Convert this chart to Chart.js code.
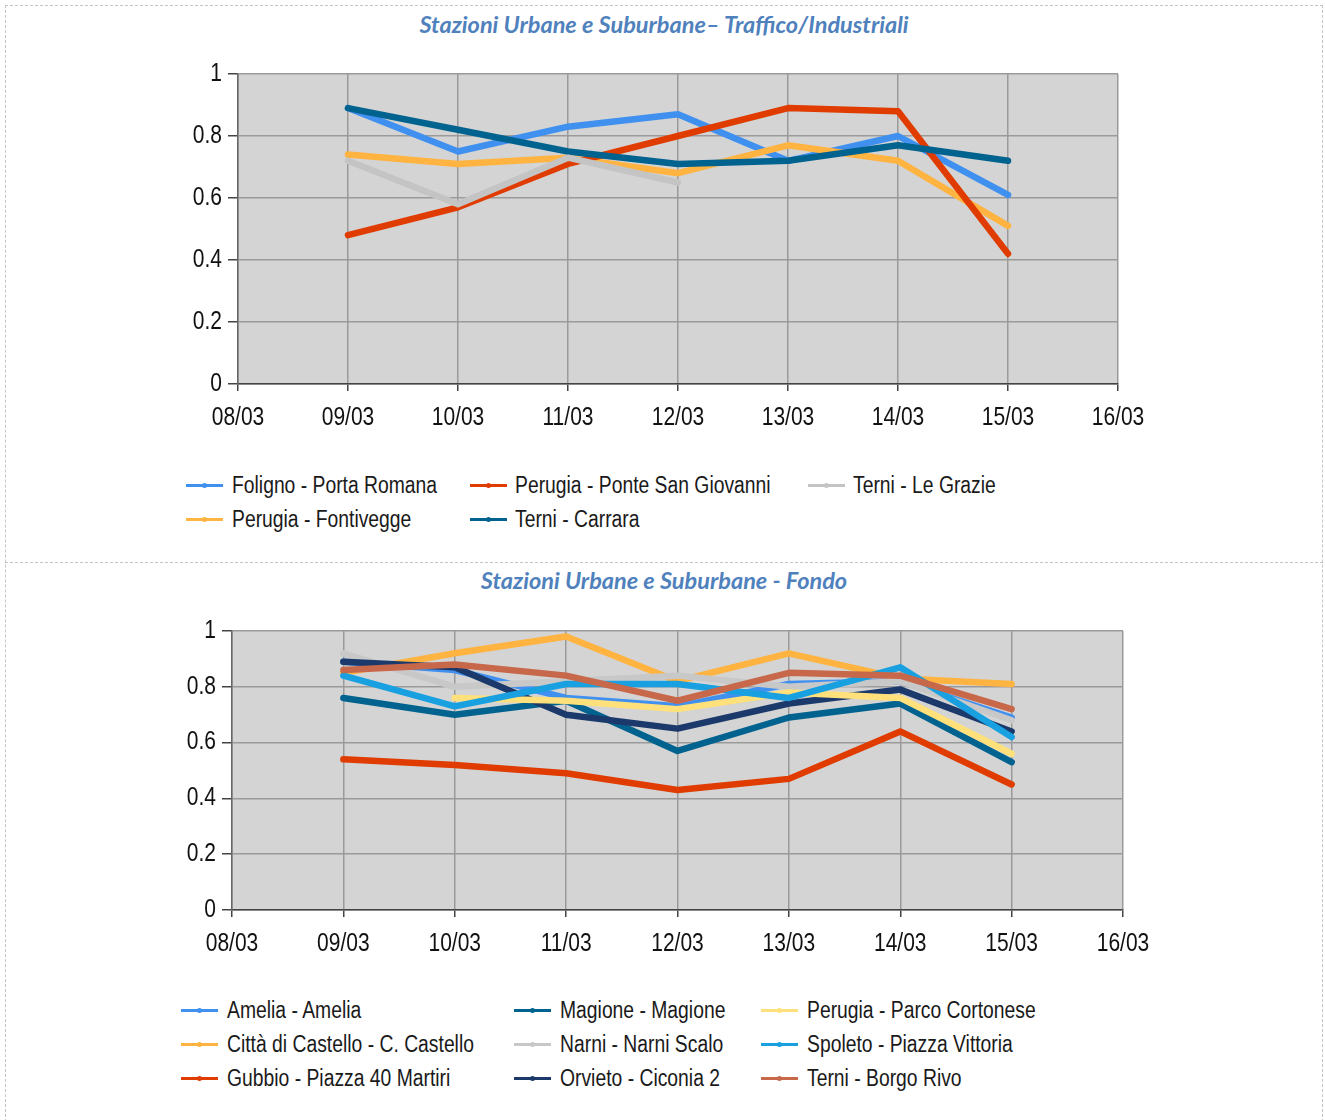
<!DOCTYPE html>
<html>
<head>
<meta charset="utf-8">
<script src="https://cdn.jsdelivr.net/npm/chart.js@4.4.1/dist/chart.umd.min.js"></script>
<style>
    body { margin: 0; background: #fff; width: 1325px; height: 1120px; position: relative; overflow: hidden; }
    .cornice { position: absolute; left: 5px; top: 5px; width: 1316px; height: 1130px; border: 1px dashed #c4c4c4; }
    .separatore { position: absolute; left: 5px; top: 562px; width: 1318px; border-top: 1px dashed #c4c4c4; }
    .titolo { position: absolute; left: 5px; width: 1318px; text-align: center; font-family: Lato, 'Open Sans', sans-serif;
              font-weight: bold; font-style: italic; font-size: 23.5px; color: #4f81bd; white-space: pre; }
    .box-grafico { position: absolute; left: 150px; width: 1030px; }
    .legenda { position: absolute; font-family: 'Liberation Sans', Arial, sans-serif; font-size: 23px; color: #1a1a1a; }
    .voce { position: absolute; white-space: nowrap; height: 30px; line-height: 30px; }
    .voce .linea { position: absolute; left: 0; top: 14px; width: 37px; height: 3px; }
    .voce .punto { position: absolute; left: 16px; top: 13px; width: 5px; height: 5px; border-radius: 50%; }
    .voce .testo { position: absolute; top: 0; transform: scaleX(0.84); transform-origin: left center; }
</style>
</head>
<body>
<div class="cornice"></div>
<div class="separatore"></div>

<div class="titolo" style="top: 10px;">Stazioni Urbane e Suburbane– Traffico/Industriali</div>
<div class="box-grafico" style="top: 40px; height: 410px;"><canvas id="grafico-traffico"></canvas></div>
<div class="legenda" id="legenda-traffico"></div>

<div class="titolo" style="top: 566px;">Stazioni Urbane e Suburbane - Fondo</div>
<div class="box-grafico" style="top: 600px; height: 375px;"><canvas id="grafico-fondo"></canvas></div>
<div class="legenda" id="legenda-fondo"></div>

<script>
// ===== DATI =====
const giorni = ['08/03', '09/03', '10/03', '11/03', '12/03', '13/03', '14/03', '15/03', '16/03'];
const tickY  = [0, 0.2, 0.4, 0.6, 0.8, 1];

// Traffico / Industriali
const folignoPortaRomana      = [null, 0.89, 0.75, 0.83, 0.87, 0.72, 0.80, 0.61, null];
const perugiaPonteSanGiovanni = [null, 0.48, 0.57, 0.71, 0.80, 0.89, 0.88, 0.42, null];
const terniLeGrazie           = [null, 0.72, 0.58, 0.73, 0.65, null, null, null, null];
const perugiaFontivegge       = [null, 0.74, 0.71, 0.73, 0.68, 0.77, 0.72, 0.51, null];
const terniCarrara            = [null, 0.89, 0.82, 0.75, 0.71, 0.72, 0.77, 0.72, null];

// Fondo
const ameliaAmelia          = [null, 0.89, 0.86, 0.76, 0.73, 0.81, 0.82, 0.69, null];
const cittaDiCastello       = [null, 0.85, 0.92, 0.98, 0.82, 0.92, 0.83, 0.81, null];
const gubbioPiazza40Martiri = [null, 0.54, 0.52, 0.49, 0.43, 0.47, 0.64, 0.45, null];
const magioneMagione        = [null, 0.76, 0.70, 0.75, 0.57, 0.69, 0.74, 0.53, null];
const narniNarniScalo       = [null, 0.92, 0.80, 0.82, 0.84, 0.80, 0.82, 0.68, null];
const orvietoCiconia2       = [null, 0.89, 0.87, 0.70, 0.65, 0.74, 0.79, 0.64, null];
const perugiaParcoCortonese = [null, null, 0.76, 0.75, 0.72, 0.78, 0.76, 0.56, null];
const spoletoPiazzaVittoria = [null, 0.84, 0.73, 0.81, 0.81, 0.76, 0.87, 0.62, null];
const terniBorgoRivo        = [null, 0.86, 0.88, 0.84, 0.75, 0.85, 0.84, 0.72, null];

// ===== SERIE =====
const serieTraffico = [
    { nome: 'Foligno - Porta Romana',       dati: folignoPortaRomana,      colore: '#4090f0' },
    { nome: 'Perugia - Fontivegge',         dati: perugiaFontivegge,       colore: '#ffb340' },
    { nome: 'Perugia - Ponte San Giovanni', dati: perugiaPonteSanGiovanni, colore: '#e03c00' },
    { nome: 'Terni - Carrara',              dati: terniCarrara,            colore: '#00628f' },
    { nome: 'Terni - Le Grazie',            dati: terniLeGrazie,           colore: '#c4c4c4' },
];
const serieFondo = [
    { nome: 'Amelia - Amelia',                 dati: ameliaAmelia,          colore: '#4090f0' },
    { nome: 'Città di Castello - C. Castello', dati: cittaDiCastello,       colore: '#ffb340' },
    { nome: 'Gubbio - Piazza 40 Martiri',      dati: gubbioPiazza40Martiri, colore: '#e03c00' },
    { nome: 'Magione - Magione',               dati: magioneMagione,        colore: '#00628f' },
    { nome: 'Narni - Narni Scalo',             dati: narniNarniScalo,       colore: '#c8c8c8' },
    { nome: 'Orvieto - Ciconia 2',             dati: orvietoCiconia2,       colore: '#1b3a6b' },
    { nome: 'Perugia - Parco Cortonese',       dati: perugiaParcoCortonese, colore: '#ffe07a' },
    { nome: 'Spoleto - Piazza Vittoria',       dati: spoletoPiazzaVittoria, colore: '#18a0e0' },
    { nome: 'Terni - Borgo Rivo',              dati: terniBorgoRivo,        colore: '#c8684a' },
];

const FONT_ASSI = "25px 'Liberation Sans', Arial, sans-serif";
const STRETTO   = 0.84;   // simula Arial Narrow

// sfondo grigio dell'area del grafico
const sfondoArea = {
    id: 'sfondoArea',
    beforeDraw(chart) {
        const { ctx, chartArea: a } = chart;
        ctx.save();
        ctx.fillStyle = '#d4d4d4';
        ctx.fillRect(a.left, a.top, a.right - a.left, a.bottom - a.top);
        ctx.restore();
    }
};

// etichette degli assi in carattere stretto, posizionate dalle scale
const etichetteStrette = {
    id: 'etichetteStrette',
    afterDraw(chart) {
        const { ctx, chartArea: a, scales } = chart;
        ctx.save();
        ctx.font = FONT_ASSI;
        ctx.fillStyle = '#111';
        ctx.textBaseline = 'middle';
        ctx.textAlign = 'center';
        scales.x.ticks.forEach((t, i) => {
            ctx.save();
            ctx.translate(scales.x.getPixelForTick(i), a.bottom + 34);
            ctx.scale(STRETTO, 1);
            ctx.fillText(scales.x.getLabelForValue(t.value), 0, 0);
            ctx.restore();
        });
        ctx.textAlign = 'right';
        scales.y.ticks.forEach((t, i) => {
            ctx.save();
            ctx.translate(a.left - 16, scales.y.getPixelForTick(i));
            ctx.scale(STRETTO, 1);
            ctx.fillText(String(t.value), 0, 0);
            ctx.restore();
        });
        ctx.restore();
    }
};

// ===== GRAFICO =====
function creaGrafico(idCanvas, serie, dim) {
    const ctx = document.getElementById(idCanvas).getContext('2d');
    return new Chart(ctx, {
        type: 'line',
        data: {
            labels: giorni,
            datasets: serie.map((s, i) => ({
                label:            s.nome,
                data:             s.dati,
                borderColor:      s.colore,
                backgroundColor:  s.colore,
                borderWidth:      6.5,
                borderCapStyle:   'round',
                borderJoinStyle:  'round',
                pointRadius:      0,
                tension:          0,
                spanGaps:         false,
                order:            -i,
            }))
        },
        options: {
            responsive: true,
            maintainAspectRatio: false,
            animation: false,
            layout: { padding: { top: dim.top, right: dim.right, left: 0, bottom: 0 } },
            plugins: { legend: { display: false }, tooltip: { enabled: false } },
            scales: {
                x: {
                    offset: false,
                    grid: { color: '#9a9a9a', lineWidth: 1.5, tickLength: 7, tickColor: '#444' },
                    border: { color: '#444', width: 1.5 },
                    ticks: { display: false, autoSkip: false },
                    afterFit: s => { s.height = dim.altezzaX; }
                },
                y: {
                    min: tickY[0],
                    max: tickY[tickY.length - 1],
                    afterBuildTicks: s => { s.ticks = tickY.map(v => ({ value: v })); },
                    grid: { color: '#9a9a9a', lineWidth: 1.5, tickLength: 10, tickColor: '#444' },
                    border: { color: '#666', width: 1.5 },
                    ticks: { display: false },
                    afterFit: s => { s.width = dim.larghezzaY; }
                }
            }
        },
        plugins: [sfondoArea, etichetteStrette]
    });
}

// ===== LEGENDA =====
function creaLegenda(idLegenda, voci) {
    const box = document.getElementById(idLegenda);
    voci.forEach(v => {
        const el = document.createElement('div');
        el.className = 'voce';
        el.style.left = v.x + 'px';
        el.style.top  = v.y + 'px';
        el.innerHTML = `<span class="linea" style="background:${v.s.colore}"></span>` +
                       `<span class="punto" style="background:${v.s.colore}"></span>` +
                       `<span class="testo" style="left:${v.dx}px">${v.s.nome}</span>`;
        box.appendChild(el);
    });
}

creaGrafico('grafico-traffico', serieTraffico, { top: 34, right: 62, altezzaX: 66, larghezzaY: 88 });
creaGrafico('grafico-fondo',    serieFondo,    { top: 31, right: 57, altezzaX: 65, larghezzaY: 82 });

// legenda in colonne come nell'originale
creaLegenda('legenda-traffico', [
    { s: serieTraffico[0], x: 186, y: 470, dx: 46 },
    { s: serieTraffico[2], x: 470, y: 470, dx: 45 },
    { s: serieTraffico[4], x: 808, y: 470, dx: 45 },
    { s: serieTraffico[1], x: 186, y: 504, dx: 46 },
    { s: serieTraffico[3], x: 470, y: 504, dx: 45 },
]);
const colFondo = [181, 514, 761];
const rigFondo = [995, 1029, 1063];
creaLegenda('legenda-fondo', serieFondo.map((s, i) => ({
    s, x: colFondo[Math.floor(i / 3)], y: rigFondo[i % 3], dx: 46
})));
</script>
</body>
</html>
